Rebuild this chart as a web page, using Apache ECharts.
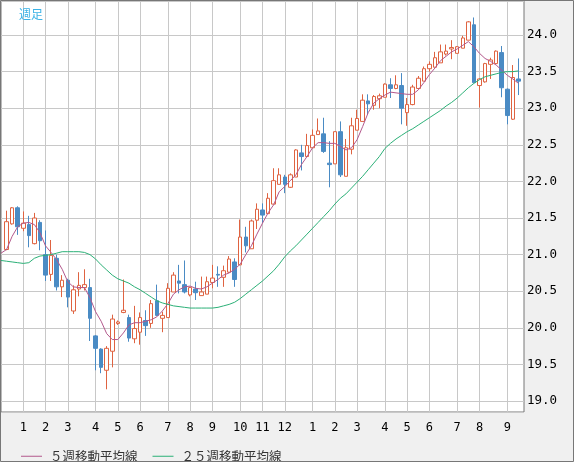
<!DOCTYPE html>
<html>
<head>
<meta charset="utf-8">
<script src="https://cdn.jsdelivr.net/npm/echarts@6/dist/echarts.min.js"></script>
<style>
html,body{margin:0;padding:0;background:#f0f0f0;}
#c{width:574px;height:462px;}
</style>
</head>
<body>
<div id="c"></div>
<script>
// Month tick labels and the week index (k) where each month starts
const monthLabels = ['1','2','3','4','5','6','7','8','9','10','11','12','1','2','3','4','5','6','7','8','9'];
const monthStartWeek = [3,7,11,16,20,24,29,33,37,42,46,50,55,59,63,68,72,76,81,85,90];

// Weekly candles k = 0..92
const open = [21.07,21.42,21.64,21.36,21.41,21.15,21.44,21.00,20.73,20.95,
  20.56,20.65,20.23,20.53,20.55,20.55,19.89,19.71,19.42,19.68,
  20.06,20.21,20.14,19.85,19.94,20.10,20.06,20.37,20.13,20.14,
  20.49,20.64,20.59,20.45,20.53,20.44,20.46,20.62,20.73,20.69,
  20.76,20.90,20.86,21.24,21.08,21.47,21.61,21.56,21.69,21.96,
  22.06,21.92,22.06,22.39,22.34,22.46,22.64,22.65,22.25,22.24,
  22.68,22.07,22.44,22.70,22.82,23.10,23.04,23.13,23.15,23.32,
  23.27,23.31,22.94,23.05,23.27,23.37,23.54,23.56,23.62,23.74,
  23.81,23.75,23.82,23.93,24.14,23.31,23.36,23.60,23.61,23.76,
  23.26,22.85,23.40];
const close = [21.45,21.64,21.38,21.43,21.26,21.50,21.19,20.72,20.99,20.56,
  20.65,20.42,20.52,20.58,20.59,20.13,19.72,19.46,19.72,20.12,
  20.08,20.24,19.86,19.99,20.14,20.03,20.33,20.17,20.17,20.54,
  20.72,20.61,20.49,20.55,20.48,20.49,20.63,20.68,20.72,20.78,
  20.94,20.66,21.24,21.12,21.46,21.62,21.54,21.77,22.01,22.09,
  21.96,22.09,22.43,22.34,22.49,22.63,22.69,22.41,22.23,22.68,
  22.09,22.46,22.76,22.86,23.11,23.06,23.16,23.17,23.33,23.27,
  23.32,23.00,23.05,23.29,23.41,23.54,23.60,23.69,23.77,23.78,
  23.83,23.84,23.96,24.18,23.35,23.40,23.61,23.66,23.78,23.28,
  22.90,23.42,23.37];
const low = [21.06,21.41,21.27,21.32,21.10,21.14,21.06,20.64,20.64,20.51,
  20.42,20.28,20.19,20.43,20.51,19.82,19.42,19.38,19.16,19.46,
  20.04,20.20,19.81,19.79,19.77,19.89,20.00,20.16,19.94,20.14,
  20.49,20.47,20.47,20.43,20.38,20.44,20.46,20.54,20.56,20.56,
  20.75,20.56,20.86,21.03,21.08,21.35,21.43,21.56,21.69,21.96,
  21.84,21.91,22.06,22.15,22.34,22.46,22.64,22.39,21.92,22.24,
  22.06,22.07,22.37,22.70,22.82,22.91,22.98,23.00,23.15,23.14,
  23.26,22.78,22.76,23.04,23.26,23.37,23.50,23.56,23.62,23.72,
  23.67,23.75,23.82,23.93,23.35,23.01,23.35,23.40,23.61,23.15,
  22.78,22.84,23.18];
const high = [21.60,21.65,21.66,21.59,21.53,21.57,21.47,21.33,21.20,21.00,
  20.72,20.67,20.58,20.76,20.80,20.67,19.90,19.72,19.75,20.18,
  20.10,20.66,20.18,20.30,20.21,20.24,20.38,20.59,20.22,20.61,
  20.76,20.86,20.92,20.56,20.63,20.70,20.70,20.86,20.84,20.85,
  20.98,20.95,21.48,21.38,21.48,21.70,21.70,21.84,22.18,22.18,
  22.09,22.11,22.44,22.50,22.65,22.71,22.86,22.87,22.55,22.68,
  22.82,22.58,22.87,22.98,23.19,23.19,23.18,23.20,23.34,23.41,
  23.45,23.48,23.14,23.32,23.44,23.57,23.64,23.77,23.87,23.87,
  23.93,23.85,23.99,24.19,24.24,23.41,23.62,23.69,23.79,23.85,
  23.27,23.59,23.68];

// Moving averages, k = -1..92
const ma5 = [21.02,
  21.07,21.25,21.38,21.43,21.44,21.41,21.30,21.12,21.03,20.93,
  20.80,20.63,20.56,20.55,20.55,20.41,20.22,20.09,19.92,19.84,
  19.84,19.93,20.04,20.07,20.07,20.09,20.11,20.15,20.23,20.33,
  20.46,20.52,20.56,20.57,20.54,20.53,20.56,20.61,20.66,20.72,
  20.75,20.80,20.87,21.00,21.12,21.28,21.43,21.57,21.68,21.86,
  21.93,22.01,22.09,22.23,22.34,22.46,22.53,22.53,22.52,22.52,
  22.48,22.43,22.46,22.57,22.75,22.94,23.07,23.13,23.18,23.22,
  23.21,23.20,23.19,23.19,23.25,23.35,23.46,23.55,23.65,23.71,
  23.77,23.81,23.86,23.91,23.84,23.75,23.68,23.64,23.59,23.52,
  23.45,23.40,23.34];
const ma25 = [20.92,
  20.91,20.90,20.89,20.88,20.89,20.95,20.98,20.99,21.00,21.02,
  21.04,21.04,21.04,21.04,21.03,21.00,20.94,20.86,20.79,20.72,
  20.67,20.64,20.61,20.56,20.52,20.47,20.42,20.37,20.34,20.32,
  20.30,20.29,20.28,20.27,20.27,20.27,20.27,20.27,20.28,20.30,
  20.32,20.35,20.40,20.46,20.52,20.58,20.64,20.71,20.78,20.87,
  20.97,21.05,21.12,21.20,21.28,21.36,21.44,21.52,21.60,21.69,
  21.77,21.83,21.91,21.99,22.07,22.16,22.25,22.34,22.45,22.52,
  22.58,22.63,22.68,22.72,22.77,22.82,22.87,22.92,22.97,23.03,
  23.08,23.14,23.21,23.28,23.34,23.39,23.43,23.45,23.47,23.49,
  23.50,23.50,23.51];

const weeks = [];
for (let k = -1; k <= 93; k++) weeks.push(String(k));
const isMonthStart = (i) => monthStartWeek.indexOf(i - 1) >= 0;

const candles = open.map((o, i) => [i + 1, o, close[i], low[i], high[i]]);

const chart = echarts.init(document.getElementById('c'), null, {renderer: 'canvas'});
chart.setOption({
  animation: false,
  backgroundColor: '#f0f0f0',
  title: {
    text: '週足', left: 14, top: 3,
    textStyle: {color: '#3ab2e6', fontSize: 12, fontWeight: 'normal', fontFamily: 'Noto Sans CJK JP'}
  },
  legend: {
    data: ['５週移動平均線', '２５週移動平均線'],
    icon: 'rect',
    left: 16, top: 445, itemWidth: 21, itemHeight: 1, itemGap: 15,
    textStyle: {color: '#333', fontSize: 12.5, fontFamily: 'Noto Sans CJK JP', padding: [0, 0, 0, 3]}
  },
  grid: {
    left: 1, top: 1, right: 50, bottom: 50,
    show: true, backgroundColor: '#fff', borderColor: '#777', borderWidth: 1
  },
  xAxis: {
    type: 'category', data: weeks, boundaryGap: false,
    axisLine: {show: false}, axisTick: {show: false},
    axisLabel: {
      interval: (i) => isMonthStart(i),
      formatter: (v, i) => { const m = monthStartWeek.indexOf(i - 1); return m >= 0 ? monthLabels[m] : ''; },
      color: '#000', fontSize: 12, fontFamily: 'DejaVu Sans Mono', margin: 10
    },
    splitLine: {show: true, interval: (i) => isMonthStart(i), lineStyle: {color: '#c8c8c8', width: 1}}
  },
  yAxis: {
    type: 'value', position: 'right', scale: true,
    min: 18.85, max: 24.465, splitNumber: 10,
    axisLine: {show: false}, axisTick: {show: false},
    axisLabel: {
      showMinLabel: false, showMaxLabel: false,
      formatter: (v) => v.toFixed(1),
      color: '#000', fontSize: 12.5, fontFamily: 'DejaVu Sans Mono', margin: 3
    },
    splitLine: {show: true, lineStyle: {color: '#c8c8c8', width: 1}}
  },
  graphic: [{
    type: 'rect', z: 100, silent: true,
    shape: {x: 0.5, y: 0.5, width: 573, height: 461},
    style: {fill: 'none', stroke: '#777', lineWidth: 1}
  }],
  series: [
    {
      type: 'candlestick', name: '週足',
      dimensions: ['week', 'open', 'close', 'low', 'high'],
      encode: {x: 'week', y: ['open', 'close', 'low', 'high']},
      data: candles, barWidth: 4,
      itemStyle: {color: '#ffffff', color0: '#4a8bc4', borderColor: '#df6341', borderColor0: '#4a8bc4', borderWidth: 1},
      z: 2
    },
    {
      type: 'line', name: '５週移動平均線', data: ma5, symbol: 'none', z: 3,
      itemStyle: {color: '#b3588c'}, lineStyle: {color: '#b3588c', width: 1}
    },
    {
      type: 'line', name: '２５週移動平均線', data: ma25, symbol: 'none', z: 3,
      itemStyle: {color: '#2bb077'}, lineStyle: {color: '#2bb077', width: 1}
    }
  ]
});
</script>
</body>
</html>
